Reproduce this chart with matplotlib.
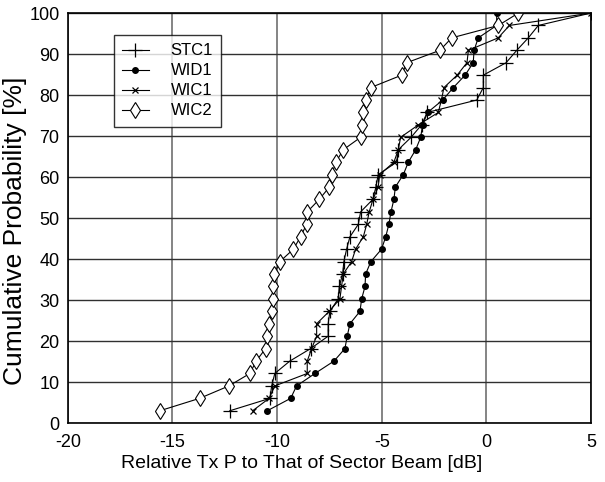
import matplotlib
matplotlib.use("Agg")
import matplotlib.pyplot as plt
import numpy as np

plt.rcParams["font.family"] = ["Liberation Sans", "DejaVu Sans"]
plt.rcParams["axes.unicode_minus"] = False

# cumulative probability levels (33 samples per scheme)
prob = np.arange(1, 34) * 100 / 33

stc1 = [-12.26, -10.34, -10.26, -10.11, -9.39, -8.40, -7.56, -7.56, -7.48, -7.08,
        -7.03, -6.87, -6.81, -6.68, -6.52, -6.12, -6.01, -5.43, -5.28, -5.17,
        -4.29, -4.21, -3.60, -3.10, -2.83, -0.46, -0.15, -0.15, 0.94, 1.45,
        2.00, 2.48, 5.00]
wid1 = [-10.47, -9.35, -9.07, -8.19, -7.28, -6.76, -6.65, -6.52, -6.04, -5.96,
        -5.80, -5.77, -5.52, -5.01, -4.81, -4.66, -4.56, -4.42, -4.35, -3.97,
        -3.73, -3.38, -3.14, -3.05, -2.81, -2.09, -1.58, -1.02, -0.63, -0.59,
        -0.39, 0.49, 0.49]
wic1 = [-11.17, -10.38, -10.11, -8.56, -8.56, -8.35, -8.11, -8.11, -7.51, -7.00,
        -6.92, -6.84, -6.44, -6.25, -5.88, -5.72, -5.60, -5.42, -5.17, -5.10,
        -4.42, -4.21, -4.10, -3.25, -2.30, -2.15, -2.03, -1.40, -0.93, -0.86,
        0.56, 1.10, 5.00]
wic2 = [-15.60, -13.70, -12.30, -11.30, -11.00, -10.55, -10.50, -10.38, -10.26, -10.21,
        -10.20, -10.13, -9.87, -9.22, -8.88, -8.59, -8.56, -7.99, -7.50, -7.39,
        -7.19, -6.84, -6.01, -5.96, -5.91, -5.76, -5.53, -4.05, -3.81, -2.22,
        -1.66, 0.57, 1.53]

fig = plt.figure(figsize=(6.05, 4.82), dpi=100)
ax = fig.add_axes([0.112, 0.122, 0.865, 0.851])

ax.plot(stc1, prob, color="black", lw=0.8, marker="+", ms=10, mew=0.9, label="STC1")
ax.plot(wid1, prob, color="black", lw=0.8, marker="o", ms=4, label="WID1")
ax.plot(wic1, prob, color="black", lw=0.8, marker="x", ms=5, mew=0.9, label="WIC1")
ax.plot(wic2, prob, color="black", lw=0.8, marker="d", ms=8.5, mfc="white", mew=0.8,
        label="WIC2")

ax.set_xlim(-20, 5)
ax.set_ylim(0, 100)
ax.set_xticks(np.arange(-20, 6, 5))
ax.set_yticks(np.arange(0, 101, 10))
ax.grid(axis="x", color="#707070", lw=1.2)
ax.grid(axis="y", color="#303030", lw=1.0)
ax.tick_params(direction="in", labelsize=13, length=0)
ax.tick_params(axis="y", pad=6)
ax.tick_params(axis="x", pad=8)
for s in ax.spines.values():
    s.set_linewidth(1.2)

ax.set_xlabel("Relative Tx P to That of Sector Beam [dB]", fontsize=14, labelpad=3)
ax.xaxis.set_label_coords(0.447, -0.078)
ax.set_ylabel("Cumulative Probability [%]", fontsize=19)
ax.yaxis.set_label_coords(-0.077, 0.47)

leg = ax.legend(loc="upper left", bbox_to_anchor=(0.088, 0.946), fontsize=12,
                frameon=True, fancybox=False, edgecolor="black", handlelength=1.6,
                handletextpad=1.3, labelspacing=0.3, borderpad=0.5, borderaxespad=0)
leg.get_frame().set_linewidth(1.0)

fig.savefig("out.png", dpi=100)
